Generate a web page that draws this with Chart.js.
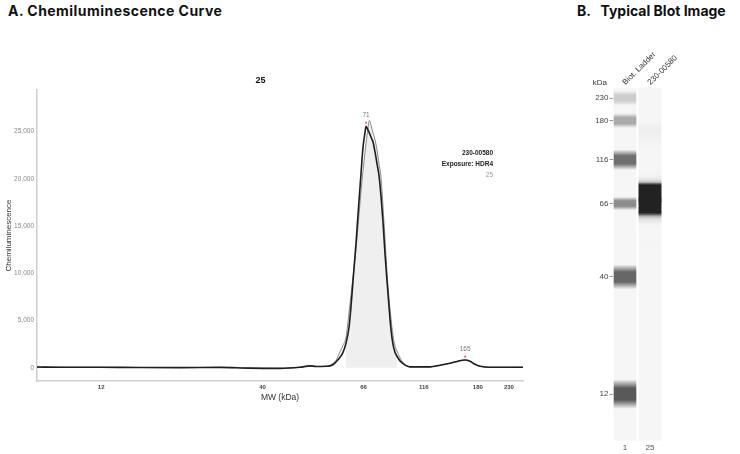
<!DOCTYPE html>
<html lang="en">
  <head>
    <meta charset="UTF-8" />
    <title>Chemiluminescence Curve and Blot</title>
    <script src="https://cdn.jsdelivr.net/npm/chart.js"></script>
    <style>
      body {
        margin: 0;
        width: 740px;
        height: 454px;
        position: relative;
        overflow: hidden;
        background: #fff;
        font-family: "Liberation Sans", Arial, sans-serif;
      }
      .heading {
        position: absolute;
        top: 4px;
        line-height: 14px;
        font-family: Inter, "Liberation Sans", sans-serif;
        font-weight: 700;
        font-size: 14px;
        color: #111;
        white-space: pre;
      }
      #curveBox { position: absolute; left: 0; top: 70px; width: 530px; height: 340px; }
      #blotBox { position: absolute; left: 570px; top: 40px; width: 170px; height: 414px; }
    </style>
  </head>
  <body>
    <div class="heading" style="left: 8px; letter-spacing: 0.45px">A. Chemiluminescence Curve</div>
    <div class="heading" style="left: 577px">B.   Typical Blot Image</div>
    <div id="curveBox"><canvas id="curve"></canvas></div>
    <div id="blotBox"><canvas id="blot"></canvas></div>

    <script>
      // ladder calibration: MW (kDa) and relative migration position (0-100)
      const ladderMW = [12, 40, 66, 116, 180, 230];
      const ladderPos = [13.2, 46.4, 67.2, 79.6, 90.7, 97.1];
      const yTicks = [0, 5000, 10000, 15000, 20000, 25000];

      // electropherogram, capillary 25
      const migration = [
        0.0, 4.7, 13.0, 21.2, 29.4, 37.7, 43.8, 50.0, 54.1, 56.2, 57.4, 59.5,
        60.7, 61.52, 62.35, 62.96, 63.58, 64.2, 64.61, 65.02, 65.64, 66.05,
        66.67, 67.08, 67.49, 67.7, 67.9, 68.11, 68.31, 68.52, 68.72, 69.14,
        69.55, 69.96, 70.37, 70.78, 71.19, 71.6, 72.02, 72.43, 72.84, 73.25,
        73.66, 74.07, 74.69, 75.31, 75.93, 76.75,
        78.8, 80.9, 82.9, 85.0, 86.6, 88.1, 89.1, 90.1, 91.2, 93.2, 95.3, 97.3, 100.0,
      ];
      const sampleTrace = [
        80, 60, 50, 30, 20, 40, -40, -60, 60, 200, 140, 160,
        265, 618, 1110, 1630, 2590, 4290, 6490, 9180, 13180, 16220,
        20580, 23350, 24900, 25570, 25400, 25150, 24940, 24680, 24420, 23900,
        22840, 21600, 20350, 18190, 15460, 12130, 9180, 6500, 4030, 2470,
        1650, 1220, 730, 450, 230, 100,
        90, 100, 260, 480, 690, 830, 690, 370, 160, 50, 50, 60, 60,
      ];
      const overlayTrace = [
        80, 60, 50, 30, 20, 40, -40, -60, 60, 200, 140, 160,
        400, 794, 1690, 2370, 3260, 5890, 7720, 9640, 12510, 14930,
        18660, 20850, 22800, 23770, 24540, 25300, 26150, 26100, 25660, 24900,
        24150, 23050, 21610, 20170, 17140, 13700, 10120, 7390, 5210, 3460,
        2320, 1780, 1050, 560, 265, 100,
        90, 100, 260, 480, 690, 830, 690, 370, 160, 50, 50, 60, 60,
      ];
      const peakAreaRange = [63.5, 74.1];

      const peakMW = [71, 165];
      const peakPos = [67.7, 88.1];
      const peakHeight = [25600, 830];

      const legendLines = ["230-00580", "Exposure: HDR4", "25"];

      // virtual blot (ladder bands in the same order as ladderMW)
      const laneLabels = ["1", "25"];
      const laneNames = ["Biot. Ladder", "230-00580"];
      const ladderShade = [0.64, 0.58, 0.43, 0.55, 0.31, 0.17];
      const ladderBandWidth = [5.2, 4.4, 2.4, 3.6, 2.6, 2.6];

      const FONT = "'Liberation Sans', Arial, sans-serif";

      function pts(ys) {
        return migration.map((x, i) => ({ x: x, y: ys[i] }));
      }

      const curveLabels = {
        id: "curveLabels",
        afterDatasetsDraw(chart) {
          const { ctx, chartArea } = chart;
          const x = chart.scales.x;
          const y = chart.scales.y;
          ctx.save();
          ctx.textBaseline = "middle";

          ctx.fillStyle = "#111";
          ctx.font = "bold 9px " + FONT;
          ctx.textAlign = "center";
          ctx.fillText("25", chartArea.left + chartArea.width * 0.46, chartArea.top - 9);

          ctx.textAlign = "right";
          legendLines.forEach((t, i) => {
            ctx.font = (i < 2 ? "bold " : "") + "6.5px " + FONT;
            ctx.fillStyle = i < 2 ? "#222" : "#999";
            ctx.fillText(t, chartArea.right - 30, chartArea.top + 63 + i * 11);
          });

          peakMW.forEach((mw, i) => {
            const px = x.getPixelForValue(peakPos[i]);
            const py = y.getPixelForValue(peakHeight[i]);
            ctx.fillStyle = "#e06060";
            ctx.beginPath();
            ctx.moveTo(px - 1.5, py - 2.5);
            ctx.lineTo(px + 1.5, py - 2.5);
            ctx.lineTo(px, py - 5);
            ctx.closePath();
            ctx.fill();
            ctx.fillStyle = "#777";
            ctx.font = "6.5px " + FONT;
            ctx.textAlign = "center";
            ctx.fillText(String(mw), px, py - 11);
          });
          ctx.restore();
        },
      };

      new Chart(document.getElementById("curve"), {
        type: "line",
        data: {
          datasets: [
            {
              label: "230-00580",
              data: pts(sampleTrace),
              borderColor: "#1e1e1e",
              borderWidth: 1.6,
              pointRadius: 0,
              cubicInterpolationMode: "monotone",
              fill: false,
            },
            {
              label: "overlay",
              data: pts(overlayTrace),
              borderColor: "#8a8a8a",
              borderWidth: 1,
              pointRadius: 0,
              cubicInterpolationMode: "monotone",
              fill: false,
            },
            {
              label: "peak area",
              data: pts(overlayTrace).filter(
                (p) => p.x >= peakAreaRange[0] && p.x <= peakAreaRange[1]
              ),
              borderWidth: 0,
              borderColor: "rgba(0,0,0,0)",
              backgroundColor: "#efefef",
              pointRadius: 0,
              cubicInterpolationMode: "monotone",
              fill: "origin",
            },
          ],
        },
        options: {
          animation: false,
          responsive: true,
          maintainAspectRatio: false,
          layout: { padding: { top: 20, right: 7, left: 0, bottom: 0 } },
          plugins: { legend: { display: false }, tooltip: { enabled: false } },
          scales: {
            x: {
              type: "linear",
              min: 0,
              max: 100,
              afterBuildTicks: (s) => {
                s.ticks = ladderPos.map((v) => ({ value: v }));
              },
              afterFit: (s) => {
                s.height = 29;
              },
              ticks: {
                callback: (v) => ladderMW[ladderPos.indexOf(v)],
                font: { family: FONT, size: 6, weight: "bold" },
                color: "#444",
                padding: 3,
                maxRotation: 0,
                autoSkip: false,
              },
              grid: { display: false, drawTicks: false },
              border: { color: "#cfcfcf", width: 1.5 },
              title: {
                display: true,
                text: "MW (kDa)",
                font: { family: FONT, size: 8.5 },
                color: "#333",
                padding: { top: 0, bottom: 7 },
              },
            },
            y: {
              min: -1400,
              max: 29400,
              afterBuildTicks: (s) => {
                s.ticks = yTicks.map((v) => ({ value: v }));
              },
              afterFit: (s) => {
                s.width = 37;
              },
              ticks: {
                callback: (v) => v.toLocaleString("en-US"),
                font: { family: FONT, size: 6.5 },
                color: "#888",
                padding: 3,
              },
              grid: { display: false, drawTicks: false },
              border: { color: "#cfcfcf", width: 1.5 },
              title: {
                display: true,
                text: "Chemiluminescence",
                font: { family: FONT, size: 8 },
                color: "#333",
                padding: { top: 4, bottom: 0 },
              },
            },
          },
        },
        plugins: [curveLabels],
      });

      // ---- blot ----
      const BG = 246;
      function greyFor(v) {
        const a = Math.pow(Math.min(1, Math.max(0, v) / 5000), 1.8) * 0.86;
        const g = Math.round(BG * (1 - a));
        return "rgb(" + g + "," + g + "," + g + ")";
      }

      function bandFill(c) {
        if (c.type !== "data") return "rgba(0,0,0,0)";
        const y = c.chart.scales.y;
        const top = y.getPixelForValue(c.raw.y[1]);
        const bot = y.getPixelForValue(c.raw.y[0]);
        if (!isFinite(top) || !isFinite(bot)) return "rgba(0,0,0,0)";
        const a = ladderShade[c.dataIndex];
        const g = c.chart.ctx.createLinearGradient(0, top, 0, bot);
        g.addColorStop(0, "rgba(0,0,0,0)");
        g.addColorStop(0.3, "rgba(0,0,0," + a + ")");
        g.addColorStop(0.7, "rgba(0,0,0," + a + ")");
        g.addColorStop(1, "rgba(0,0,0,0)");
        return g;
      }

      function sliceFill(c) {
        if (c.type !== "data") return "rgba(0,0,0,0)";
        const y = c.chart.scales.y;
        const i = c.dataIndex;
        const top = y.getPixelForValue(migration[i + 1]);
        const bot = y.getPixelForValue(migration[i]);
        if (!isFinite(top) || !isFinite(bot) || top === bot) return greyFor(sampleTrace[i]);
        const g = c.chart.ctx.createLinearGradient(0, top, 0, bot);
        g.addColorStop(0, greyFor(sampleTrace[i + 1]));
        g.addColorStop(1, greyFor(sampleTrace[i]));
        return g;
      }

      const slices = migration.slice(0, -1).map((p, i) => ({
        x: 2,
        y: [p, migration[i + 1] + 0.15],
      }));

      const blotLabels = {
        id: "blotLabels",
        afterDraw(chart) {
          const { ctx, chartArea } = chart;
          const x = chart.scales.x;
          ctx.save();
          ctx.fillStyle = "#333";
          ctx.font = "8px " + FONT;
          ctx.textBaseline = "middle";
          ctx.textAlign = "right";
          ctx.fillText("kDa", chartArea.left - 5.5, chartArea.top - 5);
          ctx.textAlign = "left";
          laneNames.forEach((t, i) => {
            ctx.save();
            ctx.translate(x.getPixelForValue(i + 1) - 1, chartArea.top - 4);
            ctx.rotate(-Math.PI / 4);
            ctx.fillText(t, 0, 0);
            ctx.restore();
          });
          ctx.restore();
        },
      };

      new Chart(document.getElementById("blot"), {
        type: "bar",
        data: {
          datasets: [
            {
              label: "ladder",
              data: ladderPos.map((p, i) => ({
                x: 1,
                y: [p - ladderBandWidth[i] * 0.8, p + ladderBandWidth[i] * 0.8],
              })),
              backgroundColor: bandFill,
              order: 1,
            },
            {
              label: "sample",
              data: slices,
              backgroundColor: sliceFill,
              order: 2,
            },
            {
              label: "lanes",
              data: laneLabels.map((_, i) => ({ x: i + 1, y: [0, 100] })),
              backgroundColor: "rgb(246,246,246)",
              order: 3,
            },
          ],
        },
        options: {
          animation: false,
          responsive: true,
          maintainAspectRatio: false,
          datasets: { bar: { grouped: false, barThickness: 22, borderWidth: 0 } },
          layout: { padding: { top: 47.8, right: 77.5, left: 0, bottom: 0 } },
          plugins: { legend: { display: false }, tooltip: { enabled: false } },
          scales: {
            x: {
              type: "linear",
              min: 0.5,
              max: 2.5,
              offset: false,
              afterBuildTicks: (s) => {
                s.ticks = laneLabels.map((_, i) => ({ value: i + 1 }));
              },
              afterFit: (s) => {
                s.height = 13.4;
              },
              ticks: {
                callback: (v) => laneLabels[v - 1],
                font: { family: FONT, size: 8 },
                color: "#555",
                padding: 2,
                maxRotation: 0,
              },
              grid: { display: false, drawTicks: false, offset: false },
              border: { display: false },
            },
            y: {
              min: 0,
              max: 100,
              afterBuildTicks: (s) => {
                s.ticks = ladderPos.map((v) => ({ value: v }));
              },
              afterFit: (s) => {
                s.width = 42.5;
              },
              ticks: {
                callback: (v) => ladderMW[ladderPos.indexOf(v)],
                font: { family: FONT, size: 8 },
                color: "#444",
                padding: 1,
              },
              grid: {
                display: true,
                drawOnChartArea: false,
                drawTicks: true,
                tickLength: 3,
                color: "#999",
              },
              border: { display: false },
            },
          },
        },
        plugins: [blotLabels],
      });
    </script>
  </body>
</html>
